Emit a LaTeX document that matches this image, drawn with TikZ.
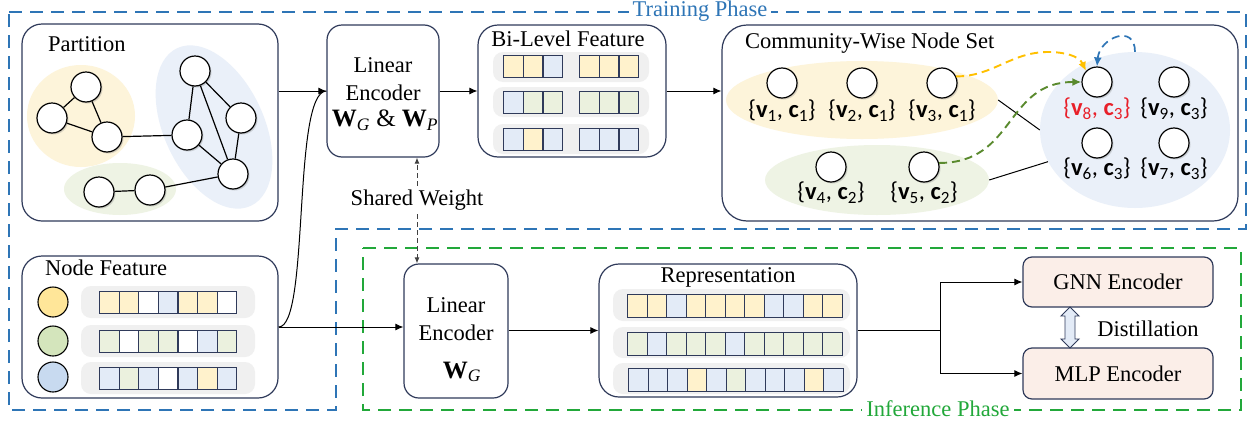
\documentclass[tikz,border=0pt]{standalone}
\usepackage{fontspec}
\setmainfont{Liberation Serif}
\newfontfamily\carl{Carlito}
\usetikzlibrary{arrows.meta,shadows,shapes.geometric}
\definecolor{navy}{HTML}{2F3A5A}
\definecolor{cY}{HTML}{FFF2CC}
\definecolor{cB}{HTML}{E3EBF7}
\definecolor{cG}{HTML}{EBF1DE}
\definecolor{cW}{HTML}{FFFFFF}
\definecolor{ellY}{HTML}{FDF4DA}
\definecolor{ellB}{HTML}{EAF0F9}
\definecolor{ellG}{HTML}{EEF3E4}
\definecolor{dotY}{HTML}{FFE699}
\definecolor{dotG}{HTML}{D4E5BC}
\definecolor{dotB}{HTML}{C8DAF0}
\definecolor{phB}{HTML}{2E75B6}
\definecolor{phG}{HTML}{22A83A}
\definecolor{dashY}{HTML}{FFC000}
\definecolor{dashG}{HTML}{5A8A2E}
\definecolor{peach}{HTML}{FBEEE8}
\definecolor{vred}{HTML}{E8202A}
\newcommand\cellrow[6]{%
  \foreach \cc [count=\ii from 0] in {#5}{%
    \node[cellbox, fill=c\cc, minimum width=#3pt, minimum height=#4pt] (#6-\ii) at (#1+\ii*#3, #2) {};}}
\newcommand\vcl[2]{{\carl\{\textbf{v}\textsubscript{#1}, \textbf{c}\textsubscript{#2}\}}}
\begin{document}
\begin{tikzpicture}[x=1pt,y=-1pt,font=\fontsize{22.5}{27}\selectfont,
  box/.style={draw=navy, line width=1.2pt, fill=white, rounded corners=20pt, inner sep=0pt},
  sbox/.style={draw=navy, line width=1.2pt, fill=peach, rounded corners=9pt, inner sep=0pt, minimum width=190pt},
  gnode/.style={circle, draw=black, line width=1.2pt, fill=white, minimum size=30pt, inner sep=0pt,
    drop shadow={shadow xshift=1.5pt, shadow yshift=-1.5pt, opacity=0.3}},
  fdot/.style={circle, draw=black, line width=1.1pt, minimum size=30pt, inner sep=0pt},
  cellbox/.style={draw=navy, line width=1.1pt, inner sep=0pt, anchor=north west},
  bar/.style={fill=gray!12, rounded corners=10pt},
  arr/.style={-{Latex[length=8pt,width=7pt]}, line width=1pt},
  edge/.style={line width=1.2pt},
  phaseB/.style={draw=phB, line width=2.8pt, dash pattern=on 13pt off 8pt},
  phaseG/.style={draw=phG, line width=2.8pt, dash pattern=on 13pt off 8pt},
  title/.style={inner sep=0pt},
  vlab/.style={inner sep=0pt, font=\fontsize{24.5}{28}\selectfont},
  ell/.style={ellipse, inner sep=0pt}]
\useasboundingbox (0,0) rectangle (1250,426);

% phase frames
\draw[phaseB] (9,12) -- (1246,12) -- (1246,229) -- (336,229) -- (336,410) -- (9,410) -- cycle;
\draw[phaseG] (363,248) -- (1241,248) -- (1241,410) -- (363,410) -- cycle;
\node[fill=white, inner sep=4pt, text=phB] (trainlab) at (700,11) {Training Phase};
\node[fill=white, inner sep=4pt, text=phG] (inflab) at (938,409) {Inference Phase};

% Partition box
\node[box, minimum width=256pt, minimum height=197pt] (part) at (150,122.5) {};
\node[title, anchor=west] (parttitle) at (48,44) {Partition};
\fill[ellY] (81,116) ellipse [x radius=54, y radius=51];
\fill[ellB, rotate around={25:(214,127)}] (214,127) ellipse [x radius=50, y radius=87];
\fill[ellG] (120,189) ellipse [x radius=56, y radius=26];
\node[gnode] (p1) at (86,87) {};
\node[gnode] (p2) at (52,118) {};
\node[gnode] (p3) at (107,137) {};
\node[gnode] (p4) at (195,71) {};
\node[gnode] (p5) at (241,118) {};
\node[gnode] (p6) at (187,135) {};
\node[gnode] (p7) at (233,174) {};
\node[gnode] (p8) at (99,192) {};
\node[gnode] (p9) at (150,190) {};
\draw[edge] (p1) -- (p2);
\draw[edge] (p1) -- (p3);
\draw[edge] (p2) -- (p3);
\draw[edge] (p3) -- (p6);
\draw[edge] (p4) -- (p6);
\draw[edge] (p4) -- (p5);
\draw[edge] (p4) -- (p7);
\draw[edge] (p5) -- (p7);
\draw[edge] (p6) -- (p7);
\draw[edge] (p9) -- (p7);
\draw[edge] (p8) -- (p9);

% Node Feature box
\node[box, minimum width=256pt, minimum height=142pt] (nf) at (150,327) {};
\node[title, anchor=west] (nftitle) at (45,268) {Node Feature};
\node[fdot, fill=dotY] (d1) at (53,302) {};
\node[fdot, fill=dotG] (d2) at (53,341) {};
\node[fdot, fill=dotB] (d3) at (53,377) {};
\fill[bar] (81,286) rectangle (255,318);
\fill[bar] (81,325) rectangle (255,357);
\fill[bar] (81,362) rectangle (255,394);
\cellrow{99}{291}{19.6}{22}{Y,Y,W,B,Y,Y,W}{nfa}
\cellrow{99}{330}{19.6}{22}{G,W,G,G,W,B,G}{nfb}
\cellrow{99}{367}{19.6}{22}{B,G,B,W,B,Y,B}{nfc}

% Linear encoder (training)
\node[box, rounded corners=15pt, minimum width=112pt, minimum height=132pt] (le1) at (383,91) {};
\node[title] (le1a) at (383,65) {Linear};
\node[title] (le1b) at (383,93) {Encoder};
\node[title, font=\fontsize{25}{28}\selectfont] (le1c) at (385,120) {\textbf{W}\textsubscript{\textit{G}} \& \textbf{W}\textsubscript{\textit{P}}};

% Bi-level feature
\node[box, minimum width=188pt, minimum height=132pt] (bl) at (572,91) {};
\node[title] (bltitle) at (568,39) {Bi-Level Feature};
\fill[bar] (493,52) rectangle (649,82);
\fill[bar] (493,87) rectangle (649,117);
\fill[bar] (493,124) rectangle (649,154);
\cellrow{503}{55}{19.7}{22}{Y,Y,B}{bla}
\cellrow{579}{55}{19.7}{22}{Y,Y,Y}{blb}
\cellrow{503}{91}{19.7}{22}{B,G,G}{blc}
\cellrow{579}{91}{19.7}{22}{G,G,G}{bld}
\cellrow{503}{128}{19.7}{22}{B,Y,B}{ble}
\cellrow{579}{128}{19.7}{22}{B,B,B}{blf}

% Community-wise node set
\node[box, rounded corners=25pt, minimum width=516pt, minimum height=196pt] (cw) at (980,123) {};
\node[title, anchor=west] (cwtitle) at (745,43) {Community-Wise Node Set};
\node[ell, fill=ellY, minimum width=272pt, minimum height=78pt] (eY) at (862,100) {};
\node[ell, fill=ellG, minimum width=224pt, minimum height=70pt] (eG) at (877,180) {};
\node[ell, fill=ellB, minimum width=190pt, minimum height=156pt] (eB) at (1135,130) {};
\draw[line width=1pt] (eY.east) -- (eB.west);
\draw[line width=1pt] (eG.east) -- (eB.200);
\node[gnode] (c1) at (782,83) {};
\node[gnode] (c2) at (862,83) {};
\node[gnode] (c3) at (942,83) {};
\node[gnode] (c4) at (831,167) {};
\node[gnode] (c5) at (924,167) {};
\node[gnode] (c8) at (1097,82) {};
\node[gnode] (c9) at (1174,82) {};
\node[gnode] (c6) at (1097,143) {};
\node[gnode] (c7) at (1174,143) {};
\node[vlab] (l1) at ([yshift=-28pt]c1.center) {\vcl{1}{1}};
\node[vlab] (l2) at ([yshift=-28pt]c2.center) {\vcl{2}{1}};
\node[vlab] (l3) at ([yshift=-28pt]c3.center) {\vcl{3}{1}};
\node[vlab] (l4) at ([yshift=-26pt]c4.center) {\vcl{4}{2}};
\node[vlab] (l5) at ([yshift=-26pt]c5.center) {\vcl{5}{2}};
\node[vlab, text=vred] (l8) at ([yshift=-27pt]c8.center) {\vcl{8}{3}};
\node[vlab] (l9) at ([yshift=-27pt]c9.center) {\vcl{9}{3}};
\node[vlab] (l6) at ([yshift=-26pt]c6.center) {\vcl{6}{3}};
\node[vlab] (l7) at ([yshift=-26pt]c7.center) {\vcl{7}{3}};
\draw[dashY, line width=1.9pt, dash pattern=on 8pt off 5pt, -{Latex[length=9pt,width=8pt]}]
  (c3.25) to[out=0,in=180] (1048,52) to[out=0,in=115] (c8.north west);
\draw[dashG, line width=1.9pt, dash pattern=on 8pt off 5pt, -{Latex[length=9pt,width=8pt]}]
  (c5.15) to[out=0,in=180,looseness=1.2] (c8.west);
\draw[phB, line width=1.7pt, dash pattern=on 8pt off 5pt, -{Latex[length=9pt,width=8pt]}]
  (eB.north) to[out=90,in=85,looseness=1.8] (c8.north);

% Shared weight
\node[title, fill=white, inner sep=4pt] (sw) at (417,200) {Shared Weight};

% Linear encoder (inference)
\node[box, rounded corners=15pt, minimum width=104pt, minimum height=134pt] (le2) at (456,331) {};
\node[title] (le2a) at (456,305) {Linear};
\node[title] (le2b) at (456,333) {Encoder};
\node[title, font=\fontsize{25}{28}\selectfont] (le2c) at (462,372) {\textbf{W}\textsubscript{\textit{G}}};

\draw[-{Latex[length=6pt,width=5pt]}, line width=0.9pt, dash pattern=on 5pt off 3pt, draw=black!75] (sw.north) -- (sw.north |- le1.south);
\draw[-{Latex[length=6pt,width=5pt]}, line width=0.9pt, dash pattern=on 5pt off 3pt, draw=black!75] (sw.south) -- (sw.south |- le2.north);

% Representation
\node[box, minimum width=258pt, minimum height=133pt] (rep) at (728,330.5) {};
\node[title] (reptitle) at (728,277) {Representation};
\fill[bar] (613,289) rectangle (850,321);
\fill[bar] (613,327) rectangle (850,358);
\fill[bar] (613,363) rectangle (850,394);
\cellrow{627}{294}{19.5}{23}{Y,Y,B,Y,Y,Y,Y,B,B,Y,Y}{ra}
\cellrow{627}{332}{19.5}{23}{G,B,G,G,G,B,G,G,G,G,G}{rb}
\cellrow{628}{368}{19.5}{23}{B,B,B,Y,B,G,B,B,B,Y,B}{rc}

% GNN / MLP
\node[sbox, minimum height=50pt] (gnn) at (1118,282) {GNN Encoder};
\node[sbox, minimum height=51pt] (mlp) at (1118,373.5) {MLP Encoder};
\draw[draw=navy, fill=cB, line width=0.9pt]
  (1070,307) -- (1079,316) -- (1075,316) -- (1075,339) -- (1079,339) -- (1070,348)
  -- (1061,339) -- (1065,339) -- (1065,316) -- (1061,316) -- cycle;
\node[title] (dist) at (1148,329) {Distillation};

% connectors
\draw[arr] (part.east |- le1.west) -- (le1.west);
\draw[line width=1pt] (nf.east) .. controls (310,327) and (292,92) .. (le1.west);
\draw[arr] (nf.east) -- (nf.east -| le2.west);
\draw[arr] (le1.east) -- (bl.west);
\draw[arr] (bl.east) -- (bl.east -| cw.west);
\draw[arr] (le2.east |- rep.west) -- (rep.west);
\coordinate (split) at (940,330.5);
\draw[line width=1pt] (rep.east) -- (split);
\draw[arr] (split) |- (gnn.west);
\draw[arr] (split) |- (mlp.west);
\end{tikzpicture}
\end{document}
